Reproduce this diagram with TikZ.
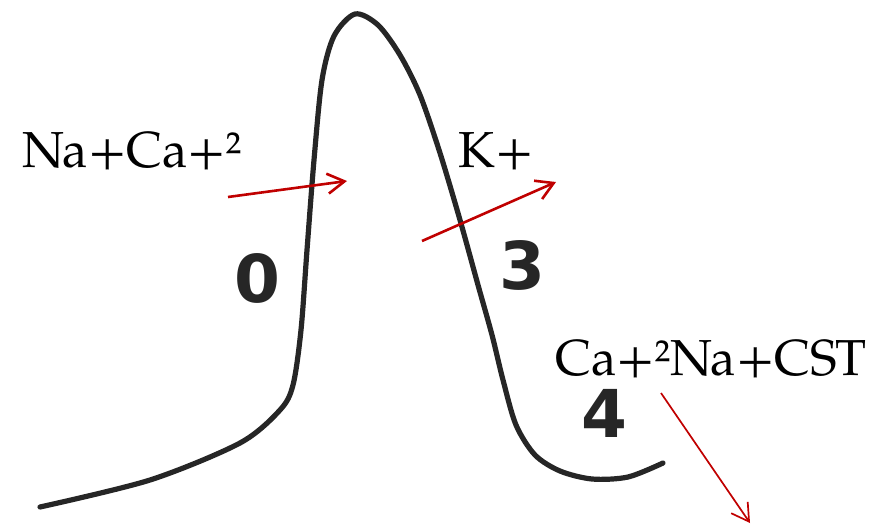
\documentclass[tikz,border=0pt]{standalone}
\usepackage{fontspec}
\setmainfont{TeX Gyre Pagella}
\newfontfamily\phasefont{DejaVu Sans}
\usepackage{tikz}
\usetikzlibrary{positioning,arrows.meta}
\definecolor{ionred}{HTML}{C00000}
\tikzset{
  % --- labels ----------------------------------------------------------------
  ion/.style={inner sep=0pt,anchor=base west,font=\fontsize{25.3}{29}\selectfont},
  phase/.style={inner sep=0pt,anchor=base,text=black!85,
                font=\phasefont\bfseries\fontsize{33}{36}\selectfont},
  % --- membrane potential trace ----------------------------------------------
  trace/.style={black!85,line width=2.6pt,line cap=round,line join=round},
  % --- ion currents ------------------------------------------------------------
  flux/.style={-{Straight Barb[length=8.5pt,width=10pt]},ionred,line width=1.3pt},
  fluxthin/.style={flux,line width=0.85pt},
}
\begin{document}
\begin{tikzpicture}[x=0.5pt, y=-0.5pt]
  \useasboundingbox (0,0) rectangle (877,530);

  \draw[trace] plot[smooth,tension=0.5] coordinates {
    (40,507) (150,480) (240,443) (280,410) (293,385)
    (301,330) (307,250) (314,160) (322,80) (334,36) (355,14)
    (378,25) (400,55) (420,95) (440,153) (460,220) (478,285)
    (492,335) (503,380) (516,425) (535,455) (560,471) (592,479)
    (628,477) (663,463)};

  \node[phase] (p0) at (257,302) {0};
  \node[phase] (p3) at (522,289) {3};
  \node[phase] (p4) at (604,437) {4};

  \node[ion] (naca) at (22,167)  {Na+Ca+²};
  \node[ion] (k)    at (458,167) {K+};
  \node[ion] (cst)  at (555,375) {Ca+²Na+CST};

  \coordinate (in0)  at (228,197); \coordinate (out0) at (347,181);
  \coordinate (in3)  at (422,241); \coordinate (out3) at (556,182);
  \coordinate (in4)  at (661,393); \coordinate (out4) at (750,523);
  \draw[flux]     (in0) -- (out0);
  \draw[flux]     (in3) -- (out3);
  \draw[fluxthin] (in4) -- (out4);
\end{tikzpicture}
\end{document}
